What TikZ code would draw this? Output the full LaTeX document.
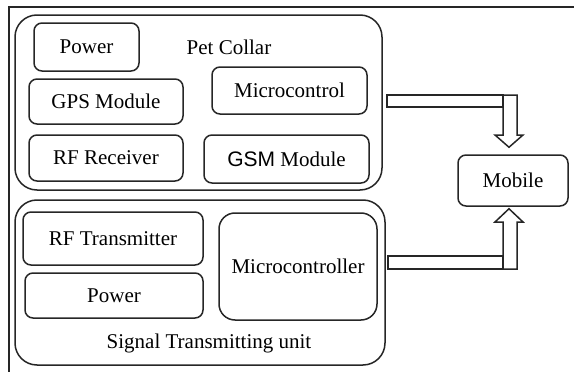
\documentclass[tikz,border=0pt]{standalone}
\usepackage{fontspec}
\setmainfont{Liberation Serif}
\setsansfont{Liberation Sans}
\usetikzlibrary{calc}
\begin{document}
\begin{tikzpicture}[x=1pt,y=-1pt,
  lw/.style={line width=1.5pt, draw=black!85},
  box/.style={lw, rounded corners=8pt, inner sep=0pt, font=\fontsize{21}{23}\selectfont},
  bigbox/.style={lw, rounded corners=22pt, inner sep=0pt},
  lbl/.style={inner sep=0pt, font=\fontsize{21}{23}\selectfont},
  blockarrow/.style={lw, fill=white, line join=miter}]
\useasboundingbox (0,0) rectangle (574,372);
% frame
\draw[line width=1.9pt, draw=black!85] (9,372) -- (9,7) -- (574,7);
% Pet collar
\node[bigbox, minimum width=367pt, minimum height=175pt] (collar) at (198.5,102.5) {};
\node[box, minimum width=105pt, minimum height=48pt] (pow1) at (86.5,47) {Power};
\node[lbl] (collarlbl) at (229,47) {Pet Collar};
\node[box, minimum width=154pt, minimum height=45pt] (gps) at (106,101.5) {GPS Module};
\node[box, minimum width=155pt, minimum height=47pt] (mc1) at (289.5,90.5) {Microcontrol};
\node[box, minimum width=154pt, minimum height=46pt] (rfrx) at (106,158) {RF Receiver};
\node[box, minimum width=165pt, minimum height=48pt] (gsm) at (286.5,159) {{\sffamily GSM} Module};
% Mobile
\node[box, minimum width=110pt, minimum height=51pt] (mobile) at (513,180.5) {Mobile};
% Signal unit
\node[bigbox, minimum width=370pt, minimum height=165pt] (signal) at (200,282.5) {};
\node[box, minimum width=180pt, minimum height=53pt] (rftx) at (113,238.5) {RF Transmitter};
\node[box, minimum width=178pt, minimum height=45pt] (pow2) at (114,295.5) {Power};
\node[box, rounded corners=16pt, minimum width=158pt, minimum height=107pt] (mc2) at (298,266.5) {Microcontroller};
\node[lbl] (siglbl) at (209,343) {Signal Transmitting unit};
% upper block arrow: collar -> mobile
\draw[blockarrow] (387,95) rectangle (503,107);
\draw[blockarrow] (503,95) -- (517,95) -- (517,135) -- (523,135) -- ([yshift=7pt]mobile.north -| 509,0) -- (495,135) -- (503,135) -- cycle;
% lower block arrow: signal -> mobile
\draw[blockarrow] (388,256) rectangle (503,269);
\draw[blockarrow] (503,269) -- (517,269) -- (517,222) -- (523,222) -- ([yshift=-2pt]mobile.south -| 509,0) -- (495,222) -- (503,222) -- cycle;
\end{tikzpicture}
\end{document}
